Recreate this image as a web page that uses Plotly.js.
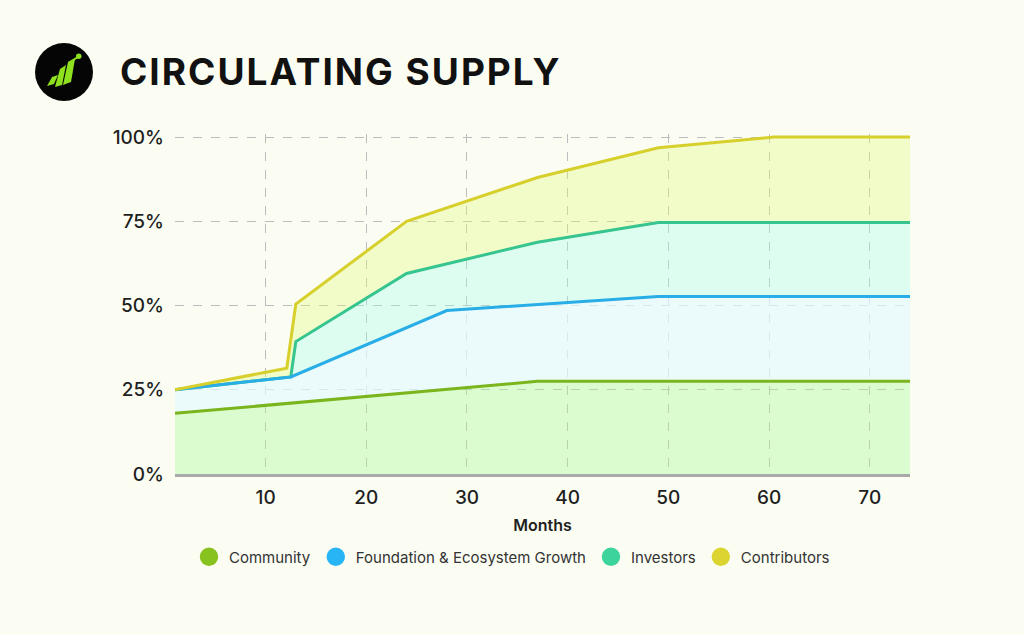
<!DOCTYPE html>
<html>
<head>
<meta charset="utf-8">
<script src="https://cdn.plot.ly/plotly-3.0.1.min.js"></script>
<style>
  html, body { margin: 0; padding: 0; background: #fbfdf3; }
  #chart { width: 1024px; height: 635px; }
  .gtitle { letter-spacing: 2px; }
</style>
</head>
<body>
<div id="chart"></div>
<script>
// Cumulative share of total supply (%) at each month knot, per allocation
const communityMonths = [1, 37, 74];
const communityPct    = [18, 27.5, 27.5];

const foundationMonths = [1, 12.5, 28, 49, 74];
const foundationPct    = [25, 28.8, 48.5, 52.7, 52.7];

const investorsMonths = [1, 12.5, 13, 24, 37, 49, 74];
const investorsPct    = [25, 28.8, 39.3, 59.5, 68.8, 74.6, 74.6];

const contributorsMonths = [1, 12.1, 13, 24, 37, 49, 60.5, 74];
const contributorsPct    = [25, 31.4, 50.4, 75, 88, 96.8, 100, 100];

const seriesNames = ['Community', 'Foundation & Ecosystem Growth', 'Investors', 'Contributors'];
const yTicks = [0, 25, 50, 75, 100];
const yTickText = ['0%', '25%', '50%', '75%', '100%'];
const xTicks = [10, 20, 30, 40, 50, 60, 70];

const lineColors   = ['#7ab51d', '#29ade6', '#36c48f', '#d6cf2c'];
const legendColors = ['#88c21e', '#27b5f5', '#3dd39c', '#dcd431'];
const fillColors   = ['rgba(173,250,153,0.4)', 'rgba(228,250,255,0.7)',
                      'rgba(165,253,234,0.35)', 'rgba(225,250,120,0.35)'];

const xs = [communityMonths, foundationMonths, investorsMonths, contributorsMonths];
const ys = [communityPct, foundationPct, investorsPct, contributorsPct];

const traces = [];
// stacked fill bands, each filled down to the band below it
for (let i = 0; i < 4; i++) {
  traces.push({
    type: 'scatter', mode: 'lines', x: xs[i], y: ys[i],
    fill: i === 0 ? 'tozeroy' : 'tonexty', fillcolor: fillColors[i],
    line: {width: 0}, showlegend: false, hoverinfo: 'skip'
  });
}
// outlines; foundation drawn after investors so it sits on top where they coincide
[0, 2, 1, 3].forEach(i => {
  traces.push({
    type: 'scatter', mode: 'lines', x: xs[i], y: ys[i],
    line: {color: lineColors[i], width: 3}, showlegend: false, hoverinfo: 'skip'
  });
});
// round legend keys
for (let i = 0; i < 4; i++) {
  traces.push({
    type: 'scatter', mode: 'markers', x: [null], y: [null], name: seriesNames[i],
    marker: {color: legendColors[i], size: 16, symbol: 'circle',
             line: {color: legendColors[i], width: 2.5}}
  });
}

// plot area in pixels, used to place the logo in paper coordinates
const L = 175, R = 910, T = 134, B = 474;
const px = v => (v - L) / (R - L);
const py = v => (B - v) / (B - T);
function path(pts) {
  return 'M' + pts.map(p => px(p[0]).toFixed(4) + ',' + py(p[1]).toFixed(4)).join(' L') + ' Z';
}

const green = '#8fe01f';
const shapes = [
  {type: 'circle', xref: 'paper', yref: 'paper', x0: px(35), x1: px(93), y0: py(43), y1: py(101),
   fillcolor: '#050505', line: {width: 0}, layer: 'above'},
  {type: 'path', xref: 'paper', yref: 'paper', path: path([[47, 86], [52, 77], [58, 75], [54, 84]]),
   fillcolor: green, line: {width: 0}, layer: 'above'},
  {type: 'path', xref: 'paper', yref: 'paper', path: path([[55, 87], [60, 69], [66, 65], [62, 85]]),
   fillcolor: green, line: {width: 0}, layer: 'above'},
  {type: 'path', xref: 'paper', yref: 'paper', path: path([[63, 85], [68, 62], [75, 59], [71, 82]]),
   fillcolor: green, line: {width: 0}, layer: 'above'},
  {type: 'path', xref: 'paper', yref: 'paper', path: path([[68, 62], [77, 56.5], [78, 58], [70, 63.5]]),
   fillcolor: green, line: {width: 0}, layer: 'above'},
  {type: 'circle', xref: 'paper', yref: 'paper', x0: px(76), x1: px(81.5), y0: py(53.5), y1: py(59),
   fillcolor: green, line: {width: 0}, layer: 'above'}
];

const layout = {
  width: 1024, height: 635,
  paper_bgcolor: '#fbfdf3', plot_bgcolor: '#fbfdf3',
  margin: {l: L, r: 1024 - R, t: T, b: 635 - B},
  title: {
    text: 'CIRCULATING SUPPLY',
    xref: 'container', yref: 'container', x: 120 / 1024, xanchor: 'left',
    y: 1 - 72 / 635, yanchor: 'middle',
    font: {family: 'Inter, Roboto, sans-serif', size: 37, weight: 700, color: '#111111'}
  },
  xaxis: {
    range: [1, 74], tickvals: xTicks, ticks: '', ticklabelstandoff: 4,
    showgrid: true, gridcolor: '#bdbdbd', gridwidth: 1, griddash: 'dash',
    zeroline: false, showline: true, linecolor: '#a9a9a9', linewidth: 3,
    tickfont: {family: 'Inter, sans-serif', size: 19, weight: 500, color: '#1f1f1f'},
    title: {text: 'Months', standoff: 13,
            font: {family: 'Inter, sans-serif', size: 16, weight: 600, color: '#1f1f1f'}}
  },
  yaxis: {
    range: [0, 100.9], tickvals: yTicks, ticktext: yTickText, ticks: '', ticklabelstandoff: 10,
    showgrid: true, gridcolor: '#bdbdbd', gridwidth: 1, griddash: 'dash',
    zeroline: false, showline: false,
    tickfont: {family: 'Inter, sans-serif', size: 19, weight: 500, color: '#1f1f1f'}
  },
  legend: {
    orientation: 'h', traceorder: 'normal', xref: 'container', yref: 'container',
    x: 0.5, xanchor: 'center', y: 1 - 557 / 635, yanchor: 'middle',
    font: {family: 'Inter, sans-serif', size: 15, color: '#333333'},
    bgcolor: 'rgba(0,0,0,0)'
  },
  shapes: shapes,
  showlegend: true
};

Plotly.newPlot('chart', traces, layout, {displayModeBar: false, staticPlot: true});
</script>
</body>
</html>
